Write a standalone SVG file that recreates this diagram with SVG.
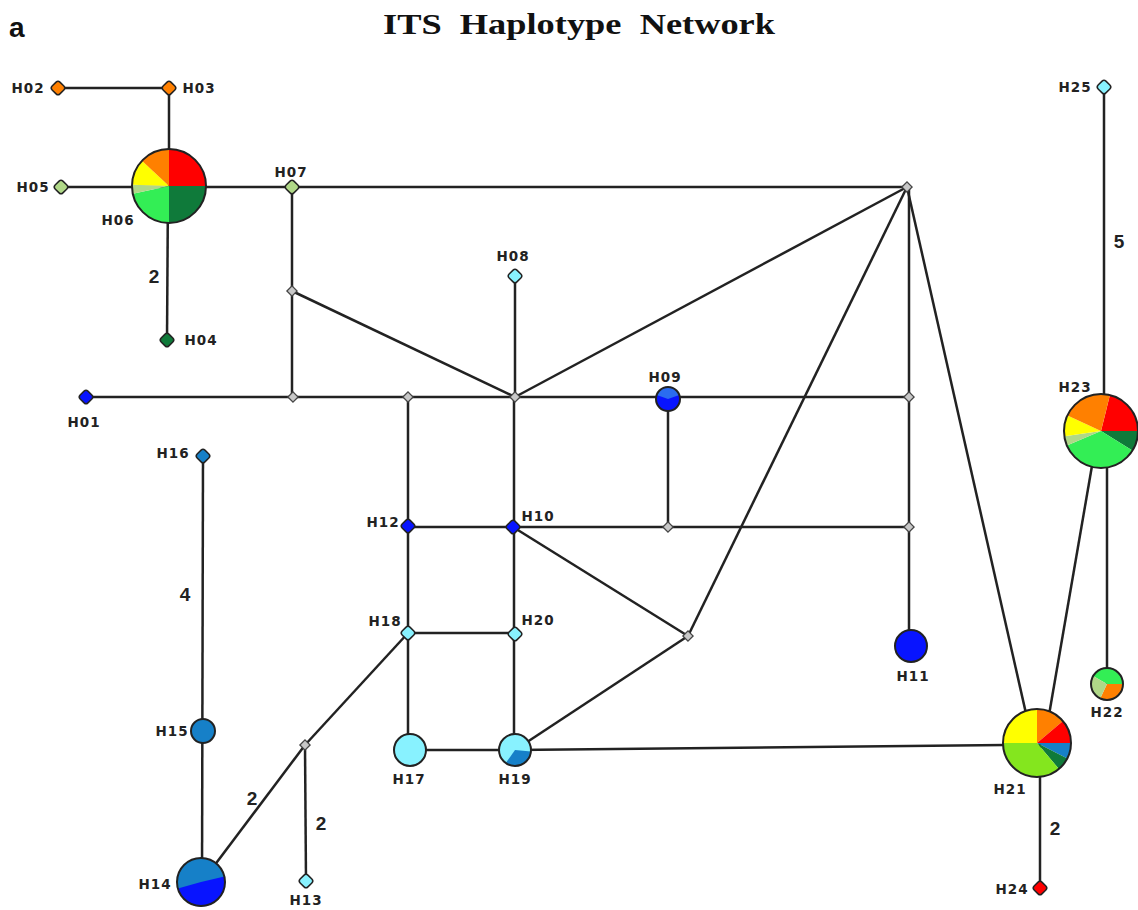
<svg xmlns="http://www.w3.org/2000/svg" width="1138" height="910" viewBox="0 0 1138 910">
<style>
.e{stroke:#222;stroke-width:2.5;fill:none}
.lb{font-family:"DejaVu Sans","Liberation Sans",sans-serif;font-weight:bold;font-size:13.5px;letter-spacing:1px;fill:#222;text-anchor:middle}
.num{font-family:"Liberation Sans",Arial,sans-serif;font-weight:bold;font-size:19px;fill:#222;text-anchor:middle}
.ttl{font-family:"Liberation Serif","Times New Roman",serif;font-weight:bold;font-size:30px;fill:#111}
.lt{font-family:"Liberation Sans",Arial,sans-serif;font-weight:bold;font-size:28px;fill:#111}
.sm{stroke:#222;stroke-width:1.5}
.mv{fill:#c8c8c8;stroke:#444;stroke-width:1.3}
.big{stroke:#222;stroke-width:2}
.or{fill:#ff8000}.rd{fill:#ff0000}.pg{fill:#b0d888}.dg{fill:#0f7a3a}.bg{fill:#33ee55}
.ye{fill:#ffff00}.bl{fill:#0814ff}.sb{fill:#1680c8}.cy{fill:#88f2ff}.ch{fill:#84e61e}
</style>
<defs>
<rect id="d" x="-5.5" y="-5.5" width="11" height="11" rx="2.7" transform="rotate(45)"/>
<rect id="m" x="-3.6" y="-3.6" width="7.2" height="7.2" transform="rotate(45)"/>
</defs>
<rect width="1138" height="910" fill="#fff"/>
<text class="lt" x="9" y="37">a</text>
<text class="ttl" x="383" y="34" textLength="392" lengthAdjust="spacingAndGlyphs" xml:space="preserve">ITS  Haplotype  Network</text>
<g id="connectors">
<line class="e" x1="58" y1="88" x2="169" y2="88"/>
<line class="e" x1="169" y1="88" x2="169" y2="186"/>
<line class="e" x1="61" y1="187" x2="169" y2="187"/>
<line class="e" x1="169" y1="187" x2="907" y2="187"/>
<line class="e" x1="168" y1="186" x2="167" y2="340"/>
<line class="e" x1="292" y1="187" x2="292" y2="397"/>
<line class="e" x1="292" y1="291" x2="515" y2="397"/>
<line class="e" x1="86" y1="397" x2="909" y2="397"/>
<line class="e" x1="907" y1="187" x2="515" y2="397"/>
<line class="e" x1="909" y1="187" x2="909" y2="646"/>
<line class="e" x1="907" y1="187" x2="688" y2="636"/>
<line class="e" x1="907" y1="187" x2="1032" y2="740"/>
<line class="e" x1="515" y1="276" x2="515" y2="397"/>
<line class="e" x1="514" y1="397" x2="514" y2="750"/>
<line class="e" x1="408" y1="397" x2="408" y2="750"/>
<line class="e" x1="408" y1="527" x2="909" y2="527"/>
<line class="e" x1="668" y1="397" x2="668" y2="527"/>
<line class="e" x1="513" y1="527" x2="688" y2="636"/>
<line class="e" x1="408" y1="633" x2="515" y2="633"/>
<line class="e" x1="410" y1="750" x2="515" y2="750"/>
<line class="e" x1="515" y1="750" x2="1005" y2="745"/>
<line class="e" x1="688" y1="636" x2="515" y2="750"/>
<line class="e" x1="408" y1="633" x2="305" y2="745"/>
<line class="e" x1="305" y1="745" x2="202" y2="882"/>
<line class="e" x1="305" y1="745" x2="306" y2="881"/>
<line class="e" x1="203" y1="456" x2="202" y2="882"/>
<line class="e" x1="1040" y1="743" x2="1040" y2="888"/>
<line class="e" x1="1093" y1="460" x2="1049" y2="715"/>
<line class="e" x1="1107" y1="460" x2="1107" y2="684"/>
<line class="e" x1="1104" y1="87" x2="1104" y2="400"/>
</g>
<g id="numbers">
<text class="num" x="154" y="283">2</text>
<text class="num" x="185" y="601">4</text>
<text class="num" x="1119" y="248">5</text>
<text class="num" x="252" y="805">2</text>
<text class="num" x="321" y="830">2</text>
<text class="num" x="1055" y="835">2</text>
</g>
<g id="medians" class="mv">
<use href="#m" x="907" y="187"/>
<use href="#m" x="292" y="291"/>
<use href="#m" x="293" y="397"/>
<use href="#m" x="408" y="397"/>
<use href="#m" x="515" y="397"/>
<use href="#m" x="909" y="397"/>
<use href="#m" x="668" y="527"/>
<use href="#m" x="909" y="527"/>
<use href="#m" x="688" y="636"/>
<use href="#m" x="305" y="745"/>
</g>
<g id="H02"><use href="#d" x="58" y="88" class="or sm"/><text class="lb" x="28" y="93">H02</text></g>
<g id="H03"><use href="#d" x="169" y="88" class="or sm"/><text class="lb" x="199" y="93">H03</text></g>
<g id="H05"><use href="#d" x="61" y="187" class="pg sm"/><text class="lb" x="33" y="192">H05</text></g>
<g id="H07"><use href="#d" x="292" y="187" class="pg sm"/><text class="lb" x="291" y="177">H07</text></g>
<g id="H04"><use href="#d" x="167" y="340" class="dg sm"/><text class="lb" x="201" y="345">H04</text></g>
<g id="H06">
<path class="rd" d="M169,186 L169,149 A37,37 0 0 1 206,186 Z"/>
<path class="dg" d="M169,186 L206,186 A37,37 0 0 1 169,223 Z"/>
<path class="bg" d="M169,186 L169,223 A37,37 0 0 1 132.8,193.7 Z"/>
<path class="pg" d="M169,186 L132.8,193.7 A37,37 0 0 1 132,184.7 Z"/>
<path class="ye" d="M169,186 L132,184.7 A37,37 0 0 1 141.9,160.8 Z"/>
<path class="or" d="M169,186 L141.9,160.8 A37,37 0 0 1 169,149 Z"/>
<circle cx="169" cy="186" r="37" fill="none" class="big"/>
<text class="lb" x="118" y="225">H06</text>
</g>
<g id="H08"><use href="#d" x="515" y="276" class="cy sm"/><text class="lb" x="513" y="261">H08</text></g>
<g id="H01"><use href="#d" x="86" y="397" class="bl sm"/><text class="lb" x="84" y="427">H01</text></g>
<g id="H09">
<circle cx="668" cy="399" r="12" class="bl"/>
<path d="M668,399 L656.7,394.9 A12,12 0 0 1 679.3,394.9 Z" fill="#2a6cf0"/>
<circle cx="668" cy="399" r="12" fill="none" class="big"/>
<text class="lb" x="665" y="382">H09</text>
</g>
<g id="H16"><use href="#d" x="203" y="456" class="sb sm"/><text class="lb" x="173" y="458">H16</text></g>
<g id="H12"><use href="#d" x="408" y="526" class="bl sm"/><text class="lb" x="383" y="527">H12</text></g>
<g id="H10"><use href="#d" x="513" y="527" class="bl sm"/><text class="lb" x="538" y="521">H10</text></g>
<g id="H18"><use href="#d" x="408" y="633" class="cy sm"/><text class="lb" x="385" y="626">H18</text></g>
<g id="H20"><use href="#d" x="515" y="634" class="cy sm"/><text class="lb" x="538" y="625">H20</text></g>
<g id="H11"><circle cx="911" cy="646" r="16" class="bl big"/><text class="lb" x="913" y="681">H11</text></g>
<g id="H15"><circle cx="203" cy="731" r="12" class="sb big"/><text class="lb" x="172" y="736">H15</text></g>
<g id="H17"><circle cx="410" cy="750" r="16" class="cy big"/><text class="lb" x="409" y="784">H17</text></g>
<g id="H19">
<circle cx="515" cy="750" r="16" class="cy"/>
<path class="sb" d="M515,750 L530.9,751.4 A16,16 0 0 1 505.8,763.1 Z"/>
<circle cx="515" cy="750" r="16" fill="none" class="big"/>
<text class="lb" x="515" y="784">H19</text>
</g>
<g id="H14">
<circle cx="201" cy="882" r="24" class="sb"/>
<path class="bl" d="M201,882 L224.4,876.6 A24,24 0 0 1 177.9,888.6 Z"/>
<circle cx="201" cy="882" r="24" fill="none" class="big"/>
<text class="lb" x="155" y="889">H14</text>
</g>
<g id="H13"><use href="#d" x="306" y="881" class="cy sm"/><text class="lb" x="306" y="905">H13</text></g>
<g id="H21">
<path class="or" d="M1037,743 L1037,709 A34,34 0 0 1 1063,721.1 Z"/>
<path class="rd" d="M1037,743 L1063,721.1 A34,34 0 0 1 1071,743 Z"/>
<path class="sb" d="M1037,743 L1071,743 A34,34 0 0 1 1067.3,758.4 Z"/>
<path class="dg" d="M1037,743 L1067.3,758.4 A34,34 0 0 1 1058.9,769 Z"/>
<path class="ch" d="M1037,743 L1058.9,769 A34,34 0 0 1 1003,743 Z"/>
<path class="ye" d="M1037,743 L1003,743 A34,34 0 0 1 1037,709 Z"/>
<circle cx="1037" cy="743" r="34" fill="none" class="big"/>
<text class="lb" x="1010" y="794">H21</text>
</g>
<g id="H22">
<path class="bg" d="M1107,684 L1093.1,676 A16,16 0 0 1 1123,684 Z"/>
<path class="or" d="M1107,684 L1123,684 A16,16 0 0 1 1100.2,698.5 Z"/>
<path class="pg" d="M1107,684 L1100.2,698.5 A16,16 0 0 1 1093.1,676 Z"/>
<circle cx="1107" cy="684" r="16" fill="none" class="big"/>
<text class="lb" x="1107" y="717">H22</text>
</g>
<g id="H23">
<path class="rd" d="M1101,431 L1109.95,395.1 A37,37 0 0 1 1138,431 Z"/>
<path class="dg" d="M1101,431 L1138,431 A37,37 0 0 1 1132.4,450.6 Z"/>
<path class="bg" d="M1101,431 L1132.4,450.6 A37,37 0 0 1 1066.9,445.5 Z"/>
<path class="pg" d="M1101,431 L1066.9,445.5 A37,37 0 0 1 1064.4,436.2 Z"/>
<path class="ye" d="M1101,431 L1064.4,436.2 A37,37 0 0 1 1067.5,415.4 Z"/>
<path class="or" d="M1101,431 L1067.5,415.4 A37,37 0 0 1 1109.95,395.1 Z"/>
<circle cx="1101" cy="431" r="37" fill="none" class="big"/>
<text class="lb" x="1075" y="392">H23</text>
</g>
<g id="H24"><use href="#d" x="1040" y="888" class="rd sm"/><text class="lb" x="1012" y="894">H24</text></g>
<g id="H25"><use href="#d" x="1104" y="87" class="cy sm"/><text class="lb" x="1075" y="92">H25</text></g>
</svg>
